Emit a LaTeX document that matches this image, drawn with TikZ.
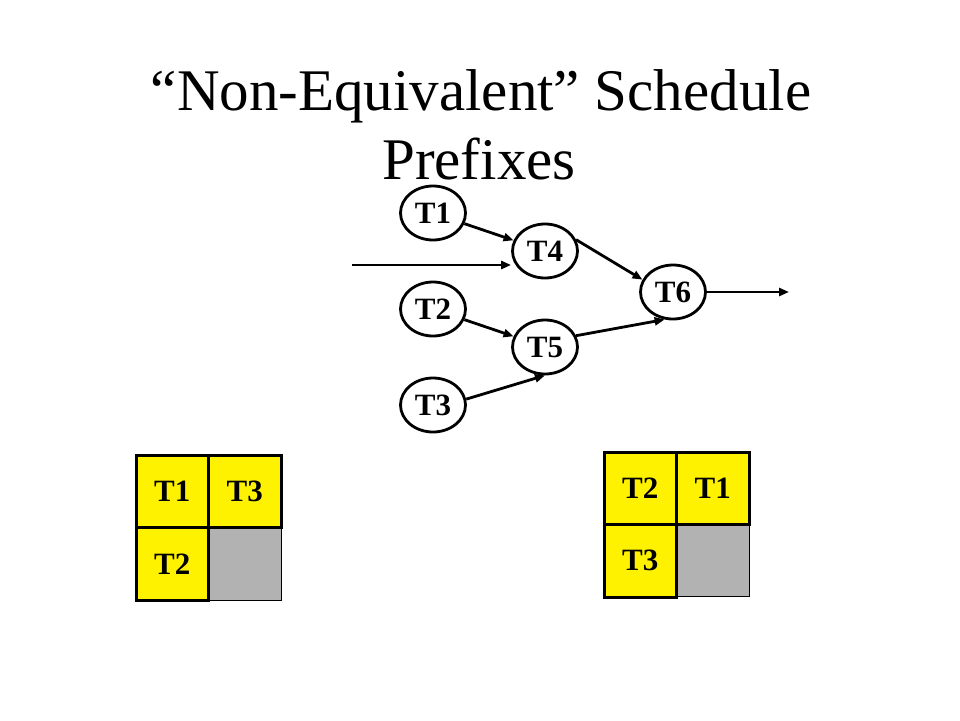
\documentclass[tikz,border=0pt]{standalone}
\usepackage{fontspec}
\setmainfont{Liberation Serif}
\usetikzlibrary{shapes.geometric,arrows.meta}
\tikzset{
  task/.style={ellipse,draw=black,line width=2.8pt,minimum width=65pt,minimum height=54pt,inner sep=0pt,font=\fontsize{31}{31}\selectfont\bfseries},
  arr/.style={line width=2.8pt,-{Triangle[length=10pt,width=8pt]}},
  ycell/.style={rectangle,draw=black,fill=yellow,line width=3pt,minimum width=72.5pt,minimum height=72.5pt,inner sep=0pt,font=\fontsize{31}{31}\selectfont\bfseries},
  gcell/.style={rectangle,draw=black,fill=gray!60,line width=1pt,minimum width=72.5pt,minimum height=72.5pt,inner sep=0pt},
  ttl/.style={anchor=base,font=\fontsize{59}{59}\selectfont}
}
\begin{document}
\begin{tikzpicture}[x=1pt,y=-1pt]
\useasboundingbox (0,0) rectangle (960,720);
% title
\node[ttl] (title1) at (481,110) {“Non-Equivalent” Schedule};
\node[ttl] (title2) at (479,179) {Prefixes};
% graph
\node[task] (T1) at (433,213) {T1};
\node[task] (T2) at (433,309) {T2};
\node[task] (T3) at (433,405) {T3};
\node[task] (T4) at (545,251) {T4};
\node[task] (T5) at (545,347) {T5};
\node[task] (T6) at (673,292) {T6};
\coordinate (in) at (352,265);
\coordinate (out) at (789,292);
\draw[arr] (in) -- (in -| T4.west);
\draw[arr] (T1) -- (T4);
\draw[arr] (T2) -- (T5);
\draw[arr] (T3.10) -- (T5.south);
\draw[arr] (T4.20) -- (T6.158);
\draw[arr] (T5.20) -- (T6.253);
\draw[arr] (T6.east) -- (out);
% left grid
\node[gcell] (L22) at (244.75,563.75) {};
\node[ycell] (L11) at (172.25,491.25) {T1};
\node[ycell] (L12) at (244.75,491.25) {T3};
\node[ycell] (L21) at (172.25,563.75) {T2};
% right grid
\node[gcell] (R22) at (712.75,560.25) {};
\node[ycell] (R11) at (640.25,488.25) {T2};
\node[ycell] (R12) at (712.75,488.25) {T1};
\node[ycell] (R21) at (640.25,560.75) {T3};
\end{tikzpicture}
\end{document}
